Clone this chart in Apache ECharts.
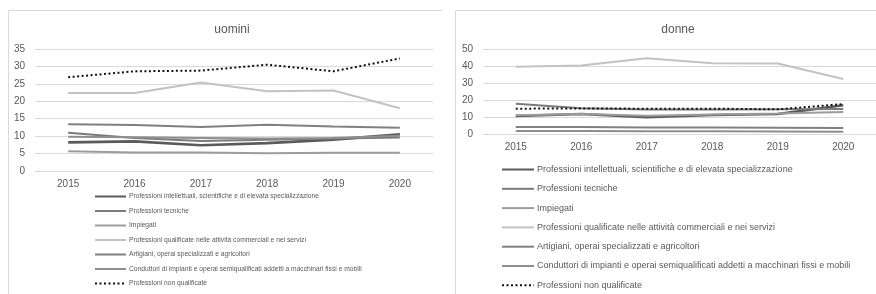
<!DOCTYPE html>
<html>
<head>
<meta charset="utf-8">
<script src="https://cdn.jsdelivr.net/npm/echarts@6/dist/echarts.min.js"></script>
<style>
  html, body { margin: 0; padding: 0; background: #fff; }
  #chart { width: 876px; height: 294px; }
</style>
</head>
<body>
<div id="chart"></div>
<script>
// anni sull'asse x
const years = ['2015', '2016', '2017', '2018', '2019', '2020']
const seriesNames = [
  'Professioni intellettuali, scientifiche e di elevata specializzazione',
  'Professioni tecniche',
  'Impiegati',
  'Professioni qualificate nelle attività commerciali e nei servizi',
  'Artigiani, operai specializzati e agricoltori',
  'Conduttori di impianti e operai semiqualificati addetti a macchinari fissi e mobili',
  'Professioni non qualificate'
]

// uomini
const uIntellettuali = [8.2, 8.5, 7.4, 8.0, 9.0, 10.5]
const uTecniche = [11.0, 9.5, 8.6, 9.0, 9.3, 9.6]
const uImpiegati = [5.7, 5.3, 5.3, 5.1, 5.2, 5.2]
const uCommercio = [22.4, 22.4, 25.4, 22.9, 23.1, 18.0]
const uArtigiani = [13.4, 13.2, 12.6, 13.3, 12.8, 12.4]
const uConduttori = [9.8, 9.7, 9.5, 9.3, 9.5, 10.1]
const uNonQualificate = [26.9, 28.6, 28.8, 30.5, 28.6, 32.3]

// donne
const dIntellettuali = [10.6, 11.8, 9.9, 11.2, 11.8, 16.9]
const dTecniche = [17.8, 15.2, 14.4, 14.4, 14.6, 14.7]
const dImpiegati = [11.0, 11.8, 10.8, 11.4, 12.0, 13.0]
const dCommercio = [39.5, 40.3, 44.6, 41.6, 41.5, 32.4]
const dArtigiani = [4.1, 4.1, 3.8, 3.8, 3.7, 3.6]
const dConduttori = [1.7, 1.7, 1.6, 1.6, 1.5, 1.3]
const dNonQualificate = [14.9, 15.0, 14.9, 14.9, 14.5, 17.6]

const uomini = [uIntellettuali, uTecniche, uImpiegati, uCommercio, uArtigiani, uConduttori, uNonQualificate]
const donne = [dIntellettuali, dTecniche, dImpiegati, dCommercio, dArtigiani, dConduttori, dNonQualificate]

const colors = ['#5a5a5a', '#7a7a7a', '#9c9c9c', '#c2c2c2', '#808080', '#8e8e8e', '#111111']
const widths = [2.6, 2, 2, 2, 2, 2, 2]
const font = 'Liberation Sans, Arial, sans-serif'

const chart = echarts.init(document.getElementById('chart'))

function buildSeries(data, gridIndex) {
  return data.map((values, i) => {
    return {
      type: 'line',
      name: seriesNames[i],
      xAxisIndex: gridIndex,
      yAxisIndex: gridIndex,
      symbol: 'none',
      animation: false,
      z: i === 6 ? 5 : 3,
      lineStyle: {
        color: colors[i],
        width: widths[i],
        type: i === 6 ? [2, 2.5] : 'solid'
      },
      itemStyle: { color: colors[i] },
      data: values
    }
  })
}

function axisX(gridIndex) {
  return {
    type: 'category',
    gridIndex,
    data: years,
    boundaryGap: true,
    axisLine: { lineStyle: { color: '#d9d9d9', width: 1 } },
    axisTick: { show: false },
    axisLabel: { color: '#595959', fontSize: 10, fontFamily: font, margin: 8 }
  }
}

function axisY(gridIndex, max, interval) {
  return {
    type: 'value',
    gridIndex,
    min: 0,
    max,
    interval,
    axisLine: { show: false },
    axisTick: { show: false },
    splitLine: { lineStyle: { color: '#d9d9d9', width: 1 } },
    axisLabel: { color: '#595959', fontSize: 10, fontFamily: font, margin: 10 }
  }
}

function buildLegend(left, top, itemWidth, itemHeight, itemGap, fontSize) {
  return {
    orient: 'vertical',
    left,
    top,
    padding: 0,
    height: 200,
    itemWidth,
    itemHeight,
    itemGap,
    selectedMode: false,
    data: seriesNames,
    itemStyle: { opacity: 0 },
    textStyle: { color: '#595959', fontSize, fontFamily: font, padding: [0, 0, 0, -2] }
  }
}

const option = {
  backgroundColor: '#fff',
  title: [
    {
      text: 'uomini',
      left: 227,
      top: 19,
      textAlign: 'center',
      textStyle: { color: '#595959', fontSize: 12, fontWeight: 'normal', fontFamily: font }
    },
    {
      text: 'donne',
      left: 673,
      top: 19,
      textAlign: 'center',
      textStyle: { color: '#595959', fontSize: 12, fontWeight: 'normal', fontFamily: font }
    }
  ],
  grid: [
    { left: 35, right: 443, top: 49, bottom: 123 },
    { left: 483, right: 0, top: 49, bottom: 160 }
  ],
  xAxis: [axisX(0), axisX(1)],
  yAxis: [axisY(0, 35, 5), axisY(1, 50, 10)],
  legend: [
    buildLegend(94, 193, 31, 8, 7.5, 6.7),
    buildLegend(501, 165, 32, 10, 10.3, 9)
  ],
  graphic: [
    {
      type: 'polyline',
      shape: { points: [[8.5, 294], [8.5, 10.5], [442, 10.5]] },
      style: { stroke: '#d9d9d9', fill: null, lineWidth: 1 },
      silent: true
    },
    {
      type: 'polyline',
      shape: { points: [[455.5, 294], [455.5, 10.5], [876, 10.5]] },
      style: { stroke: '#d9d9d9', fill: null, lineWidth: 1 },
      silent: true
    }
  ],
  series: buildSeries(uomini, 0).concat(buildSeries(donne, 1))
}

chart.setOption(option)
</script>
</body>
</html>
